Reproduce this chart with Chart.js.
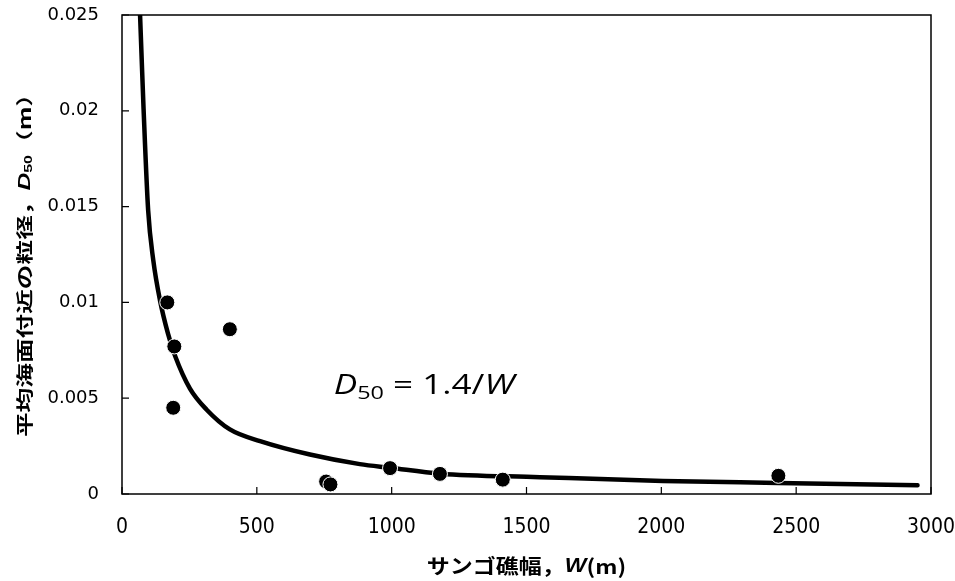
<!DOCTYPE html>
<html>
<head>
<meta charset="utf-8">
<script src="https://cdn.jsdelivr.net/npm/chart.js@4.4.1/dist/chart.umd.min.js"></script>
<style>
  html, body { margin: 0; padding: 0; background: #fff; }
  #wrap { width: 955px; height: 581px; }
</style>
</head>
<body>
<div id="wrap"><canvas id="reefChart" width="955" height="581"></canvas></div>
<script>
// measured samples: reef width W (m) vs grain size D50 (m)
const reefWidth = [168, 194, 190, 400, 757, 773, 994, 1179, 1412, 2434];
const grainSize = [0.0100, 0.0077, 0.0045, 0.0086, 0.00065, 0.0005, 0.00135, 0.00105, 0.00075, 0.00095];

// fitted curve D50 = 1.4/W
const fitW = [67, 73, 80, 97, 116, 141, 170, 197, 252, 314, 400, 512, 697, 882, 994, 1179, 1550, 2006, 2432, 2950];
const fitD = [0.025, 0.0227, 0.0201, 0.0148, 0.0122, 0.0101, 0.0084, 0.0072, 0.0055, 0.0044, 0.00337, 0.00276, 0.00206, 0.00156, 0.00137, 0.00106, 0.00088, 0.00068, 0.00058, 0.00046];

const xTicks = [0, 500, 1000, 1500, 2000, 2500, 3000];
const yTicks = [0, 0.005, 0.01, 0.015, 0.02, 0.025];

const cjk = '"Noto Sans CJK JP", "Noto Sans", sans-serif';

// draws a run of text pieces, each with its own font and baseline shift
function drawParts(ctx, parts, x, y, align) {
  let total = 0;
  parts.forEach(p => { ctx.font = p.font; p.w = ctx.measureText(p.t).width; total += p.w; });
  let cx = align === 'center' ? x - total / 2 : x;
  parts.forEach(p => {
    ctx.font = p.font;
    ctx.fillText(p.t, cx, y + (p.dy || 0));
    cx += p.w;
  });
}

const framePlugin = {
  id: 'frame',
  afterDraw(chart) {
    const { ctx, chartArea: a, scales } = chart;
    ctx.save();
    ctx.strokeStyle = '#000';
    ctx.lineWidth = 1.5;
    ctx.strokeRect(a.left, a.top, a.right - a.left, a.bottom - a.top);

    // inward tick marks
    ctx.lineWidth = 1.2;
    ctx.beginPath();
    scales.x.ticks.forEach(t => {
      const px = scales.x.getPixelForValue(t.value);
      ctx.moveTo(px, a.bottom);
      ctx.lineTo(px, a.bottom - 7);
    });
    scales.y.ticks.forEach(t => {
      const py = scales.y.getPixelForValue(t.value);
      ctx.moveTo(a.left, py);
      ctx.lineTo(a.left + 7, py);
    });
    ctx.stroke();

    ctx.fillStyle = '#000';
    ctx.textBaseline = 'middle';
    ctx.textAlign = 'left';

    // x title
    ctx.save();
    ctx.translate((a.left + a.right) / 2, 566);
    ctx.scale(1.15, 1);
    drawParts(ctx, [
      { t: 'サンゴ礁幅，', font: 'bold 20px ' + cjk },
      { t: 'W', font: 'italic bold 20px "Liberation Sans"' },
      { t: '(m)', font: 'bold 20px ' + cjk }
    ], 0, 0, 'center');
    ctx.restore();

    // y title
    ctx.save();
    ctx.translate(25, (a.top + a.bottom) / 2 + 5);
    ctx.rotate(-Math.PI / 2);
    ctx.scale(1.45, 1);
    drawParts(ctx, [
      { t: '平均海面付近の粒径，', font: 'bold 17px ' + cjk },
      { t: 'D', font: 'italic bold 17px "Liberation Sans"' },
      { t: '50', font: 'bold 11px "Liberation Sans"', dy: 4 },
      { t: '（m）', font: 'bold 17px ' + cjk }
    ], 0, 0, 'center');
    ctx.restore();

    // equation label anchored in data space
    const ex = scales.x.getPixelForValue(785);
    const ey = scales.y.getPixelForValue(0.0052);
    ctx.save();
    ctx.translate(ex, ey);
    ctx.scale(1.3, 1);
    ctx.textBaseline = 'alphabetic';
    drawParts(ctx, [
      { t: 'D', font: 'italic 27px "Open Sans"' },
      { t: '50', font: '18px "Open Sans"', dy: 5 },
      { t: ' = 1.4/', font: '27px "Open Sans"' },
      { t: 'W', font: 'italic 27px "Open Sans"' }
    ], 0, 0, 'left');
    ctx.restore();

    ctx.restore();
  }
};

new Chart(document.getElementById('reefChart'), {
  type: 'scatter',
  data: {
    datasets: [
      {
        label: 'data',
        data: reefWidth.map((w, i) => ({ x: w, y: grainSize[i] })),
        backgroundColor: '#000',
        borderColor: '#fff',
        borderWidth: 1,
        pointRadius: 7.5,
        order: 0
      },
      {
        label: 'fit',
        data: fitW.map((w, i) => ({ x: w, y: fitD[i] })),
        showLine: true,
        borderColor: '#000',
        borderWidth: 4.5,
        borderCapStyle: 'round',
        cubicInterpolationMode: 'monotone',
        pointRadius: 0,
        order: 1
      }
    ]
  },
  options: {
    responsive: false,
    animation: false,
    events: [],
    layout: { padding: { top: 15, right: 24, left: 0, bottom: 0 } },
    plugins: { legend: { display: false }, tooltip: { enabled: false } },
    scales: {
      x: {
        type: 'linear',
        min: 0,
        max: 3000,
        afterBuildTicks: s => { s.ticks = xTicks.map(v => ({ value: v })); },
        ticks: {
          color: '#000',
          padding: 21,
          maxRotation: 0,
          callback: v => String(v),
          font: { family: '"Liberation Sans Narrow", "DejaVu Sans Condensed", sans-serif', size: 21 }
        },
        grid: { display: false, drawTicks: false },
        border: { display: false },
        afterFit: s => { s.height = 87; s.paddingLeft = 0; s.paddingRight = 0; }
      },
      y: {
        type: 'linear',
        min: 0,
        max: 0.025,
        afterBuildTicks: s => { s.ticks = yTicks.map(v => ({ value: v })); },
        ticks: {
          color: '#000',
          padding: 23,
          callback: v => String(+v.toFixed(3)),
          font: { family: '"DejaVu Sans", sans-serif', size: 18 }
        },
        grid: { display: false, drawTicks: false },
        border: { display: false },
        afterFit: s => { s.width = 122; s.paddingTop = 0; s.paddingBottom = 0; }
      }
    }
  },
  plugins: [framePlugin]
});
</script>
</body>
</html>
